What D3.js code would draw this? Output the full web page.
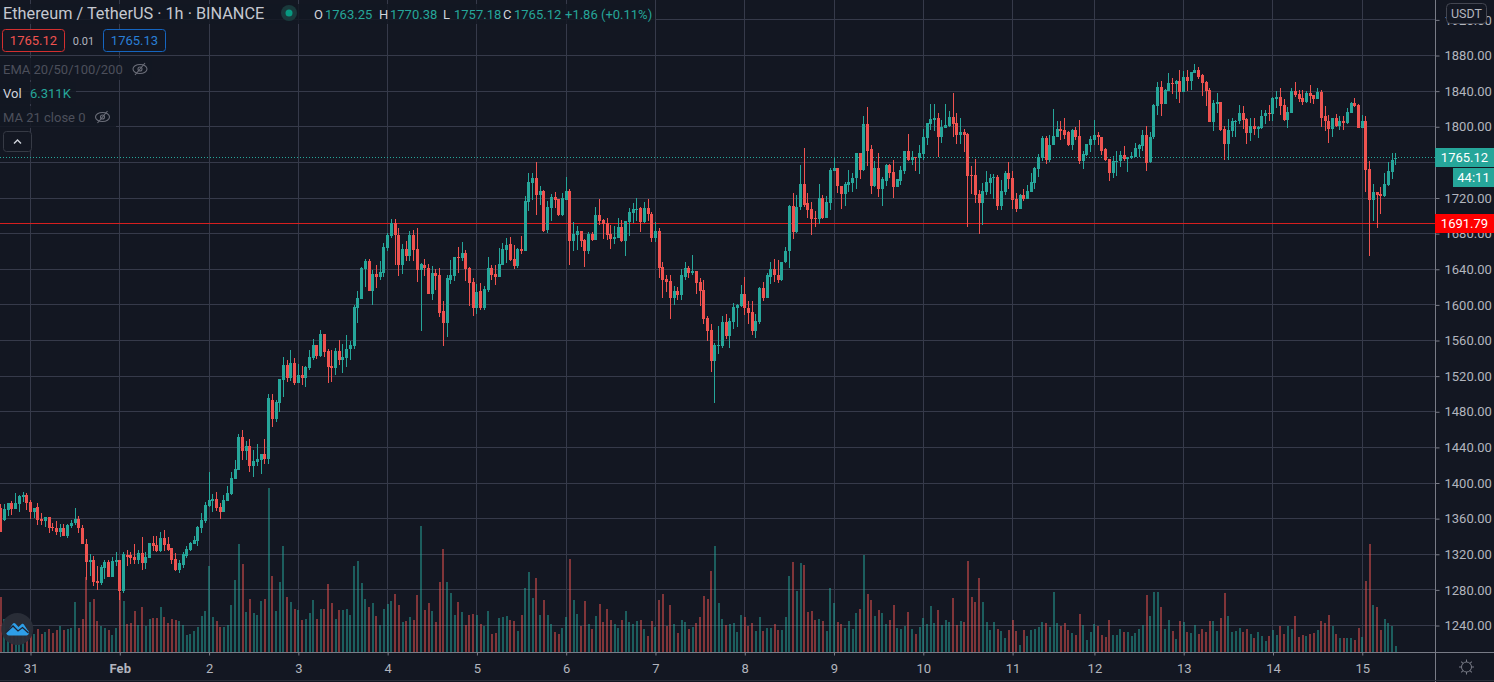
<!DOCTYPE html>
<html>
<head>
<meta charset="utf-8">
<script src="https://cdn.jsdelivr.net/npm/d3@7"></script>
<style>
  html, body { margin: 0; padding: 0; background: #131722; overflow: hidden; }
  svg { display: block; }
  text { font-family: Roboto, "Open Sans", sans-serif; }
</style>
</head>
<body>
<svg id="chart" width="1494" height="682"></svg>
<script>
// ==== Data (hourly bars, volume in K) ====
const opens = [
  1372,1358,1370,1377,1371,1376,1384,1386,1379,1367,1373,1360,1357,1362,1351,1350,1345,1349,1340,1352,1355,1360,1350,1332,
  1311,1313,1290,1288,1305,1311,1294,1311,1313,1279,1319,1319,1317,1314,1321,1310,1316,1333,1330,1324,1338,1331,1327,1315,
  1302,1308,1318,1325,1332,1335,1350,1357,1374,1380,1382,1373,1368,1380,1388,1405,1415,1452,1436,1441,1419,1424,1426,1433,
  1427,1493,1472,1490,1516,1533,1518,1535,1512,1521,1518,1529,1540,1555,1543,1567,1548,1531,1529,1548,1538,1540,1550,1554,
  1597,1607,1640,1649,1616,1635,1631,1636,1664,1677,1692,1678,1645,1663,1655,1678,1663,1639,1645,1641,1612,1636,1633,1593,
  1580,1628,1632,1654,1653,1658,1641,1626,1596,1616,1596,1617,1641,1635,1631,1645,1662,1668,1652,1644,1663,1660,1715,1737,
  1742,1723,1728,1684,1709,1721,1719,1701,1718,1728,1672,1678,1683,1673,1661,1680,1673,1701,1695,1692,1680,1674,1675,1687,
  1672,1693,1703,1707,1709,1693,1709,1702,1675,1683,1643,1629,1627,1608,1616,1611,1631,1641,1636,1638,1626,1617,1585,1572,
  1537,1554,1554,1581,1565,1581,1597,1599,1612,1597,1592,1571,1581,1619,1608,1631,1640,1634,1628,1648,1660,1711,1682,1710,
  1736,1714,1708,1697,1696,1720,1698,1714,1750,1754,1734,1724,1735,1737,1742,1770,1751,1803,1775,1734,1754,1730,1739,1757,
  1749,1732,1739,1750,1773,1763,1766,1765,1769,1787,1803,1808,1810,1788,1799,1801,1811,1804,1791,1794,1792,1746,1746,1724,
  1714,1727,1737,1742,1744,1711,1727,1748,1742,1719,1708,1723,1719,1727,1737,1753,1765,1787,1763,1779,1789,1797,1796,1794,
  1780,1796,1790,1761,1768,1780,1785,1791,1789,1775,1764,1748,1760,1761,1768,1764,1765,1766,1775,1778,1791,1760,1788,1823,
  1845,1826,1840,1849,1848,1851,1839,1856,1851,1860,1864,1858,1850,1841,1805,1826,1828,1797,1781,1795,1805,1806,1816,1809,
  1793,1801,1798,1799,1812,1815,1814,1831,1833,1824,1808,1816,1840,1837,1832,1828,1838,1836,1831,1839,1812,1807,1798,1810,
  1801,1807,1804,1816,1827,1824,1799,1806,1753,1718,1727,1724,1722,1735,1749,1763.25
];
const highs = [
  1376,1376,1377,1380,1389,1386,1390,1389,1381,1372,1378,1366,1362,1362,1355,1357,1354,1354,1354,1358,1372,1363,1353,1337,
  1320,1318,1307,1308,1314,1313,1317,1323,1313,1323,1325,1322,1331,1325,1339,1322,1333,1340,1340,1345,1347,1339,1327,1321,
  1314,1323,1329,1334,1341,1352,1366,1379,1412,1388,1390,1378,1387,1397,1412,1426,1455,1459,1447,1449,1437,1444,1433,1449,
  1500,1500,1493,1517,1542,1538,1549,1540,1534,1531,1531,1549,1562,1555,1572,1567,1551,1549,1552,1561,1556,1566,1560,1600,
  1616,1643,1651,1651,1639,1645,1649,1670,1681,1696,1696,1686,1668,1672,1683,1684,1686,1647,1652,1646,1644,1640,1641,1604,
  1634,1650,1654,1665,1671,1662,1642,1630,1624,1625,1621,1654,1645,1645,1664,1670,1675,1676,1667,1664,1677,1722,1748,1748,
  1760,1733,1729,1717,1724,1727,1719,1726,1744,1730,1693,1689,1683,1674,1682,1682,1710,1719,1696,1698,1690,1689,1698,1695,
  1694,1709,1714,1720,1710,1716,1719,1704,1693,1686,1648,1634,1633,1621,1620,1640,1648,1644,1656,1638,1630,1628,1588,1578,
  1557,1576,1587,1590,1585,1602,1601,1622,1631,1604,1604,1590,1620,1626,1636,1648,1652,1650,1648,1665,1712,1726,1723,1757,
  1776,1726,1716,1705,1736,1723,1722,1754,1766,1754,1734,1738,1751,1748,1770,1771,1812,1822,1779,1761,1770,1744,1758,1758,
  1763,1741,1756,1773,1792,1773,1766,1780,1798,1804,1826,1825,1815,1808,1826,1818,1838,1816,1810,1797,1793,1756,1764,1729,
  1737,1750,1747,1747,1746,1740,1750,1760,1750,1726,1724,1730,1735,1748,1755,1769,1790,1790,1791,1820,1806,1807,1810,1795,
  1797,1800,1808,1773,1781,1790,1808,1794,1789,1776,1764,1767,1773,1773,1778,1766,1772,1782,1781,1796,1801,1794,1825,1850,
  1851,1842,1860,1855,1852,1864,1863,1864,1862,1871,1867,1859,1851,1844,1830,1838,1828,1801,1809,1810,1808,1824,1823,1810,
  1810,1810,1801,1819,1819,1824,1833,1840,1844,1831,1822,1843,1850,1841,1841,1840,1847,1836,1844,1841,1823,1813,1810,1814,
  1812,1812,1821,1828,1832,1826,1813,1812,1761,1736,1727,1732,1748,1760,1770,1770.38
];
const lows = [
  1345,1357,1363,1364,1371,1368,1379,1370,1360,1361,1353,1353,1351,1344,1346,1342,1339,1340,1338,1350,1353,1344,1331,1291,
  1296,1284,1280,1286,1292,1294,1294,1307,1269,1277,1307,1309,1309,1309,1302,1304,1316,1324,1322,1323,1324,1324,1309,1301,
  1299,1305,1316,1324,1332,1329,1344,1355,1373,1367,1369,1360,1367,1380,1387,1404,1415,1426,1426,1412,1407,1419,1410,1421,
  1421,1463,1468,1480,1497,1513,1515,1510,1512,1510,1508,1527,1538,1539,1542,1542,1512,1513,1521,1533,1523,1530,1538,1551,
  1580,1607,1620,1616,1600,1619,1628,1631,1661,1675,1645,1632,1635,1649,1649,1649,1626,1571,1632,1612,1605,1617,1586,1554,
  1564,1623,1627,1636,1649,1627,1599,1588,1590,1594,1594,1614,1628,1622,1631,1645,1647,1649,1640,1641,1657,1660,1705,1718,
  1701,1712,1682,1681,1694,1709,1700,1700,1718,1645,1661,1662,1665,1643,1657,1672,1673,1690,1674,1673,1663,1668,1675,1671,
  1655,1677,1692,1694,1682,1692,1694,1671,1671,1630,1608,1615,1584,1600,1606,1606,1628,1630,1634,1612,1599,1579,1560,1525,
  1490,1545,1552,1562,1552,1573,1575,1598,1589,1578,1566,1563,1578,1604,1608,1624,1626,1625,1627,1647,1641,1674,1681,1706,
  1710,1698,1679,1688,1691,1696,1697,1706,1750,1726,1708,1711,1727,1727,1730,1741,1750,1756,1725,1732,1721,1711,1733,1742,
  1720,1732,1735,1747,1762,1757,1750,1747,1763,1780,1796,1795,1766,1782,1799,1800,1789,1781,1781,1772,1687,1725,1714,1680,
  1690,1723,1725,1719,1706,1706,1723,1730,1708,1704,1708,1717,1719,1727,1730,1744,1762,1758,1760,1779,1789,1785,1786,1778,
  1774,1785,1758,1753,1767,1772,1780,1780,1768,1762,1739,1743,1745,1755,1761,1749,1764,1766,1766,1773,1750,1759,1786,1813,
  1812,1825,1840,1837,1831,1827,1839,1840,1841,1860,1854,1835,1823,1805,1795,1815,1795,1763,1763,1789,1789,1803,1797,1781,
  1784,1791,1787,1798,1803,1806,1806,1821,1813,1807,1799,1816,1833,1828,1824,1827,1827,1825,1831,1800,1795,1782,1788,1800,
  1796,1796,1803,1815,1822,1799,1799,1727,1655,1694,1686,1702,1721,1734,1741,1757.18
];
const closes = [
  1345,1371,1377,1371,1377,1385,1386,1378,1367,1372,1359,1357,1362,1350,1349,1345,1349,1340,1353,1355,1360,1349,1331,1311,
  1313,1289,1288,1306,1311,1294,1312,1313,1279,1320,1317,1316,1314,1321,1310,1317,1333,1329,1324,1338,1330,1325,1314,1302,
  1310,1320,1326,1333,1336,1351,1358,1375,1381,1382,1372,1368,1381,1389,1406,1416,1452,1436,1441,1419,1425,1427,1433,1427,
  1495,1472,1491,1517,1533,1518,1535,1512,1521,1518,1530,1541,1555,1543,1567,1547,1530,1529,1548,1538,1541,1551,1555,1598,
  1608,1641,1649,1616,1635,1631,1637,1665,1678,1692,1678,1645,1663,1655,1678,1662,1639,1646,1641,1612,1636,1632,1591,1580,
  1630,1633,1654,1653,1658,1640,1625,1596,1615,1596,1618,1641,1634,1631,1646,1663,1667,1650,1644,1663,1660,1717,1738,1742,
  1723,1728,1683,1710,1721,1718,1701,1720,1728,1672,1680,1683,1672,1661,1680,1673,1701,1694,1691,1678,1674,1676,1687,1672,
  1694,1704,1708,1708,1693,1709,1702,1675,1683,1641,1628,1626,1608,1616,1611,1633,1641,1636,1638,1625,1616,1584,1571,1537,
  1555,1555,1581,1565,1582,1598,1600,1612,1596,1591,1571,1582,1619,1608,1633,1640,1633,1628,1648,1660,1711,1682,1710,1736,
  1712,1707,1696,1696,1720,1698,1715,1751,1754,1733,1724,1736,1738,1743,1770,1751,1803,1773,1734,1754,1730,1741,1757,1748,
  1732,1741,1751,1773,1763,1766,1765,1770,1788,1804,1809,1810,1788,1800,1802,1811,1803,1791,1794,1791,1745,1745,1723,1714,
  1728,1738,1743,1744,1711,1728,1748,1741,1718,1708,1723,1719,1728,1738,1754,1766,1787,1763,1780,1790,1798,1795,1791,1780,
  1796,1789,1761,1769,1781,1786,1791,1788,1773,1763,1748,1761,1762,1768,1764,1766,1767,1776,1779,1791,1759,1789,1824,1845,
  1826,1841,1849,1848,1851,1839,1856,1851,1861,1864,1856,1849,1840,1805,1827,1828,1796,1781,1796,1806,1807,1816,1808,1793,
  1801,1798,1800,1812,1815,1814,1832,1833,1823,1808,1817,1840,1836,1831,1828,1838,1835,1831,1839,1810,1806,1798,1810,1801,
  1807,1804,1817,1827,1823,1799,1806,1752,1718,1727,1723,1722,1736,1750,1763,1765.12
];
const volumes = [
  55,33,22,25,24,20,22,24,18,18,23,18,20,23,19,22,26,22,23,24,50,24,33,75,
  50,53,31,26,24,22,17,24,60,51,28,29,41,27,45,26,33,34,34,45,35,29,33,32,
  31,27,17,18,21,25,36,41,86,35,31,25,25,27,47,72,108,88,40,53,39,37,51,53,
  164,76,41,70,106,55,50,43,42,32,33,39,52,33,43,43,68,49,33,42,42,43,37,86,
  91,69,53,45,49,36,27,43,48,51,58,47,30,31,35,32,57,126,42,49,41,30,70,103,
  70,59,37,50,40,27,37,38,37,28,26,41,18,19,34,35,36,32,31,21,37,64,80,54,
  74,37,52,37,28,20,18,24,35,93,52,38,26,51,28,23,36,48,30,43,32,28,24,32,
  41,30,28,31,32,23,16,31,25,52,58,26,47,28,19,32,30,23,25,29,35,56,53,81,
  106,49,33,27,28,29,20,37,35,26,29,21,35,21,24,24,28,22,22,35,76,90,61,89,
  87,40,41,32,33,31,21,64,49,30,28,24,31,23,39,43,97,58,52,36,42,39,28,32,
  47,24,23,26,40,23,18,25,34,28,46,29,42,27,32,30,54,27,31,30,91,55,50,74,
  50,30,22,30,23,21,14,22,32,21,7,22,16,22,23,25,30,29,25,60,29,26,29,22,
  19,17,38,27,12,20,28,26,17,15,32,17,17,23,20,20,16,19,23,27,57,36,60,60,
  45,23,32,21,13,31,30,20,19,27,18,23,20,31,31,21,34,59,36,20,21,24,20,23,
  18,14,20,16,11,16,22,17,26,18,26,23,36,15,17,16,18,19,22,31,29,37,26,18,
  14,14,14,14,12,24,15,71,108,47,45,22,33,29,26,6.311
];

const priceTicks = [1920,1880,1840,1800,1760,1720,1680,1640,1600,1560,1520,1480,1440,1400,1360,1320,1280,1240];
const dayBars = [8,32,56,80,104,128,152,176,200,224,248,272,294,318,342,366];
const dayLabels = ["31","Feb","2","3","4","5","6","7","8","9","10","11","12","13","14","15"];
const lastPrice = 1765.12;
const alertPrice = 1691.79;

// ==== Colours ====
const up = "#26a69a", down = "#ef5350", bg = "#131722", gridCol = "#363a4a", axisCol = "#787b86", txt = "#b2b5be";

// ==== Scales ====
const W = 1494, H = 682, plotW = 1435, plotH = 652;
const x = d3.scaleLinear().domain([0, 375]).range([0.75, 0.75 + 3.72 * 375]);
const y = d3.scaleLinear().domain([1880, 1240]).range([55.5, 625.5]);
const yVol = d3.scaleLinear().domain([0, 164]).range([plotH, 488]);

const svg = d3.select("#chart");
const px = v => Math.round(v);

// ==== Grid ====
const gGrid = svg.append("g").attr("shape-rendering", "crispEdges");
gGrid.selectAll("line.h").data(priceTicks).join("line").attr("class", "h")
  .attr("x1", 0).attr("x2", plotW)
  .attr("y1", d => Math.floor(y(d)) + .5).attr("y2", d => Math.floor(y(d)) + .5)
  .attr("stroke", gridCol);
gGrid.selectAll("line.v").data(dayBars).join("line").attr("class", "v")
  .attr("y1", 0).attr("y2", plotH)
  .attr("x1", d => Math.floor(x(d)) + .5).attr("x2", d => Math.floor(x(d)) + .5)
  .attr("stroke", gridCol);

// ==== Volume ====
const bars = closes.map((c, i) => ({ i, c, v: volumes[i], o: opens[i], h: highs[i], l: lows[i] }));
svg.append("g").attr("shape-rendering", "crispEdges")
  .selectAll("rect").data(bars).join("rect")
  .attr("x", d => px(x(d.i) - 1))
  .attr("width", 2)
  .attr("y", d => yVol(d.v))
  .attr("height", d => plotH - yVol(d.v))
  .attr("fill", d => d.c >= d.o ? up : down)
  .attr("opacity", .5);

// ==== Price lines under the candles ====
svg.append("line").attr("x1", 0).attr("x2", plotW)
  .attr("y1", Math.floor(y(lastPrice)) + .5).attr("y2", Math.floor(y(lastPrice)) + .5)
  .attr("stroke", up).attr("stroke-dasharray", "1 2");
svg.append("line").attr("x1", 0).attr("x2", plotW)
  .attr("y1", Math.floor(y(alertPrice)) + .5).attr("y2", Math.floor(y(alertPrice)) + .5)
  .attr("stroke", "#d61f1f");

// ==== Candles ====
const gCandles = svg.append("g").attr("shape-rendering", "crispEdges");
gCandles.selectAll("rect.wick").data(bars).join("rect").attr("class", "wick")
  .attr("x", d => px(x(d.i) - .5))
  .attr("width", 1)
  .attr("y", d => y(d.h))
  .attr("height", d => y(d.l) - y(d.h))
  .attr("fill", d => d.c >= d.o ? up : down);
gCandles.selectAll("rect.body").data(bars).join("rect").attr("class", "body")
  .attr("x", d => px(x(d.i) - 1.5))
  .attr("width", 3)
  .attr("y", d => y(Math.max(d.o, d.c)))
  .attr("height", d => Math.max(1, Math.abs(y(d.o) - y(d.c))))
  .attr("fill", d => d.c >= d.o ? up : down);

// ==== Axes ====
const gY = svg.append("g").attr("transform", `translate(${plotW + .5},0)`)
  .call(d3.axisRight(y).tickValues(priceTicks).tickFormat(d3.format(".2f")).tickSize(4).tickPadding(5));
const gX = svg.append("g").attr("transform", `translate(0,${plotH + .5})`)
  .call(d3.axisBottom(x).tickValues(dayBars).tickFormat((d, i) => dayLabels[i]).tickSize(3).tickPadding(8));
for (const g of [gY, gX]) {
  g.selectAll("path.domain").attr("stroke", axisCol);
  g.selectAll("line").attr("stroke", axisCol);
  g.selectAll("text").attr("fill", txt).attr("font-size", 13).attr("font-family", "Roboto, sans-serif");
}
gY.select("path.domain").attr("d", `M0,0V${H}`);
gX.select("path.domain").attr("d", `M0,0H${W}`);
gX.selectAll("text").filter((d, i) => dayLabels[i] === "Feb").attr("font-weight", 700);
svg.append("line").attr("x1", 0).attr("x2", W).attr("y1", 680.5).attr("y2", 680.5).attr("stroke", "#2a2e39");

// ==== Price tags ====
function tag(x0, y0, w, h, fill, label) {
  svg.append("rect").attr("x", x0).attr("y", y0).attr("width", w).attr("height", h).attr("fill", fill);
  svg.append("text").attr("x", x0 + w / 2).attr("y", y0 + h / 2 + 4.5).attr("text-anchor", "middle")
    .attr("fill", "#fff").attr("font-size", 13).text(label);
}
tag(plotW, 148, W - plotW, 19, up, lastPrice.toFixed(2));
tag(1453, 168, 41, 19, up, "44:11");
tag(plotW, 214, W - plotW, 19, "#ff0000", alertPrice.toFixed(2));
svg.append("rect").attr("x", 1446.5).attr("y", 3.5).attr("width", 40).attr("height", 20).attr("rx", 4)
  .attr("fill", bg).attr("stroke", "#434651");
svg.append("text").attr("x", 1466.5).attr("y", 17.5).attr("text-anchor", "middle")
  .attr("fill", txt).attr("font-size", 12.5).text("USDT");

// ==== Legend ====
const legendBacks = [[0, 4, 655, 20], [0, 58, 152, 22], [0, 82, 76, 22], [0, 106, 116, 22]];
svg.append("g").selectAll("rect").data(legendBacks).join("rect")
  .attr("x", d => d[0]).attr("y", d => d[1]).attr("width", d => d[2]).attr("height", d => d[3])
  .attr("fill", bg).attr("opacity", .85);

function label(x0, y0, s, fill, size = 13, anchor = "start") {
  return svg.append("text").attr("x", x0).attr("y", y0).attr("fill", fill).attr("font-size", size)
    .attr("text-anchor", anchor).text(s);
}
label(3, 18.5, "Ethereum / TetherUS · 1h · BINANCE", "#c5c8d0", 16.3);
svg.append("circle").attr("cx", 289).attr("cy", 13).attr("r", 8).attr("fill", "#1a3a3c");
svg.append("circle").attr("cx", 289).attr("cy", 13).attr("r", 3.5).attr("fill", "#089981");

const ohlc = [["O", opens[375], 314], ["H", highs[375], 379], ["L", lows[375], 443], ["C", closes[375], 503]];
for (const [k, v, x0] of ohlc) {
  label(x0, 18.5, k, "#d1d4dc");
  label(x0 + 11, 18.5, v.toFixed(2), up);
}
label(565, 18.5, "+1.86 (+0.11%)", up);

svg.append("rect").attr("x", 2.5).attr("y", 29.5).attr("width", 62).attr("height", 22).attr("rx", 3)
  .attr("fill", bg).attr("stroke", "#d32f2f");
label(33.5, 45, "1765.12", "#ef5350", 13, "middle");
label(83.5, 45, "0.01", "#b2b5be", 11, "middle");
svg.append("rect").attr("x", 103.5).attr("y", 29.5).attr("width", 62).attr("height", 22).attr("rx", 3)
  .attr("fill", bg).attr("stroke", "#1565c0");
label(134.5, 45, "1765.13", "#2a7fd6", 13, "middle");

label(3, 74, "EMA 20/50/100/200", "#4c4f5b");
label(3, 98, "Vol", "#d1d4dc");
label(30, 98, "6.311K", up);
label(3, 122, "MA 21 close 0", "#4c4f5b");

// small crossed-eye icons
function eye(cx, cy) {
  const g = svg.append("g").attr("fill", "none").attr("stroke", "#6a6d78").attr("stroke-width", 1.1);
  g.append("ellipse").attr("cx", cx).attr("cy", cy).attr("rx", 7).attr("ry", 4.5);
  g.append("circle").attr("cx", cx).attr("cy", cy).attr("r", 2);
  g.append("line").attr("x1", cx - 5).attr("y1", cy + 6).attr("x2", cx + 5).attr("y2", cy - 6);
}
eye(140, 69);
eye(102.5, 117);

// collapse button
svg.append("rect").attr("x", 3.5).attr("y", 131.5).attr("width", 28).attr("height", 20).attr("rx", 3)
  .attr("fill", bg).attr("stroke", "#363a45");
svg.append("path").attr("d", "M14 143.5l3.5-3.5 3.5 3.5").attr("fill", "none")
  .attr("stroke", "#d1d4dc").attr("stroke-width", 1.4);

// logo
svg.append("circle").attr("cx", 17.3).attr("cy", 629).attr("r", 16).attr("fill", "#2a2e39").attr("opacity", .95);
svg.append("path")
  .attr("d", "M9 635.500c-3 0-3.500-4-1-5l5-7c.7-.9 1.600-.7 2.300.1l3.200 3.400 3-2.800c.9-.7 1.800-.6 2.400.3l3.600 5.500c2.400 1.500 1.600 5.500-1 5.500z")
  .attr("fill", "#2e9fe8");
svg.append("path").attr("d", "M6 632.500l7-6.500 5 5 4.500-3.500 6 5.500").attr("fill", "none")
  .attr("stroke", "#1d2230").attr("stroke-width", 1.3);

// theme (sun) icon
const sun = svg.append("g").attr("transform", "translate(1466.5,667)").attr("fill", "none").attr("stroke", "#787b86");
sun.append("circle").attr("r", 5);
sun.selectAll("line").data(d3.range(8)).join("line")
  .attr("y1", 5).attr("y2", 7.5).attr("transform", d => `rotate(${d * 45})`);
</script>
</body>
</html>
